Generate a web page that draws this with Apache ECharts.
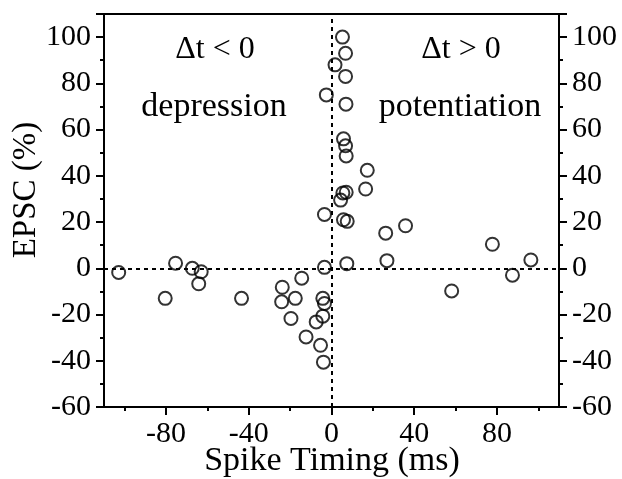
<!DOCTYPE html>
<html>
<head>
<meta charset="utf-8">
<script src="https://cdn.jsdelivr.net/npm/echarts@6/dist/echarts.min.js"></script>
<style>
html,body{margin:0;padding:0;background:#fff;}
#chart{width:622px;height:479px;}
</style>
</head>
<body>
<div id="chart"></div>
<script>
// Spike timing (ms) and EPSC change (%) for each recorded pair
const spikeTimingMs = [
  5.3, 6.8, 1.7, 6.8, -2.5, 7.0, 5.8, 6.8, 7.1, 17.3, 16.5, 7.1, 5.5, 4.4,
  -3.4, 5.8, 7.6, 26.2, 35.8, 77.8, -3.4, 7.4, 26.8, 96.4, 87.5, 58.1,
  -102.9, -75.4, -67.3, -63.0, -64.2, -80.4, -43.5, -23.8, -24.1, -17.5,
  -14.4, -19.6, -12.3, -7.4, -4.2, -4.2, -3.4, -5.3, -3.9
];
const epscPercent = [
  100, 93, 88, 83, 75, 71, 56, 53, 48.6, 42.4, 34.3, 32.9, 32.6, 29.5,
  23.3, 21, 20.3, 15.2, 18.4, 10.4, 0.4, 2.0, 3.3, 3.6, -3.0, -9.8,
  -1.8, 2.2, 0, -1.5, -6.7, -13, -13, -8.2, -14.5, -13,
  -4.3, -21.7, -29.7, -23.2, -20.7, -13, -15.2, -33.3, -40.6
];
const xMajorTicks = [-80, -40, 0, 40, 80];
const xMinorTicks = [-100, -60, -20, 20, 60, 100];
const xRange = [-110, 110];
const yRange = [-60, 110];
const yStep = 20;
const annotations = ["\u0394t < 0", "depression", "\u0394t > 0", "potentiation"];
const xTitle = "Spike Timing (ms)";
const yTitle = "EPSC (%)";

const points = spikeTimingMs.map((x, i) => [x, epscPercent[i]]);
const FONT = "Liberation Serif";
const chart = echarts.init(document.getElementById('chart'), null, {renderer: 'canvas'});

const yAxisCommon = {
  type: 'value', min: yRange[0], max: yRange[1], interval: yStep,
  axisLine: {show: true, onZero: false, lineStyle: {color: '#000', width: 2}},
  axisTick: {show: true, inside: false, length: 8, lineStyle: {color: '#000', width: 2}},
  minorTick: {show: true, splitNumber: 2, length: 4, lineStyle: {color: '#000', width: 2}},
  splitLine: {show: false},
  axisLabel: {fontFamily: FONT, fontSize: 30, color: '#000', margin: 13,
    showMaxLabel: false}
};

chart.setOption({
  animation: false,
  backgroundColor: '#fff',
  grid: {left: 104, right: 63, top: 14, bottom: 72, show: true,
    borderColor: '#000', borderWidth: 2, backgroundColor: 'transparent'},
  xAxis: [
    {
      type: 'value', min: xRange[0], max: xRange[1], position: 'bottom',
      axisLine: {show: true, onZero: false, lineStyle: {color: '#000', width: 2}},
      axisTick: {show: true, inside: false, length: 8, customValues: xMajorTicks,
        lineStyle: {color: '#000', width: 2}},
      axisLabel: {customValues: xMajorTicks, fontFamily: FONT, fontSize: 30,
        color: '#000', margin: 12},
      splitLine: {show: false}
    },
    {
      type: 'value', min: xRange[0], max: xRange[1], position: 'bottom', gridIndex: 0,
      axisLine: {show: false, onZero: false},
      axisTick: {show: true, inside: false, length: 4, customValues: xMinorTicks,
        lineStyle: {color: '#000', width: 2}},
      axisLabel: {show: false},
      splitLine: {show: false}
    }
  ],
  yAxis: [
    Object.assign({position: 'left'}, yAxisCommon),
    Object.assign({position: 'right'}, yAxisCommon)
  ],
  series: [
    {
      type: 'scatter', xAxisIndex: 0, yAxisIndex: 0,
      data: points,
      symbol: 'circle', symbolSize: 13,
      itemStyle: {color: 'rgba(0,0,0,0)', borderColor: '#000', borderWidth: 2},
      markLine: {
        silent: true, symbol: 'none', animation: false,
        label: {show: false},
        lineStyle: {color: '#000', width: 2, type: [4, 4]},
        data: [{xAxis: 0}, {yAxis: 0}]
      },
      z: 5
    }
  ],
  graphic: [
    {type: 'text', x: 215, y: 50, style: {text: annotations[0], font: '32px "' + FONT + '"',
      fill: '#000', align: 'center', verticalAlign: 'middle'}},
    {type: 'text', x: 214, y: 107, style: {text: annotations[1], font: '34px "' + FONT + '"',
      fill: '#000', align: 'center', verticalAlign: 'middle'}},
    {type: 'text', x: 461, y: 50, style: {text: annotations[2], font: '32px "' + FONT + '"',
      fill: '#000', align: 'center', verticalAlign: 'middle'}},
    {type: 'text', x: 460, y: 107, style: {text: annotations[3], font: '34px "' + FONT + '"',
      fill: '#000', align: 'center', verticalAlign: 'middle'}},
    {type: 'text', x: 332, y: 461, style: {text: xTitle, font: '34px "' + FONT + '"',
      fill: '#000', align: 'center', verticalAlign: 'middle'}},
    {type: 'text', x: 26, y: 190, rotation: Math.PI / 2, style: {text: yTitle,
      font: '33px "' + FONT + '"', fill: '#000', align: 'center', verticalAlign: 'middle'}}
  ]
});
</script>
</body>
</html>
